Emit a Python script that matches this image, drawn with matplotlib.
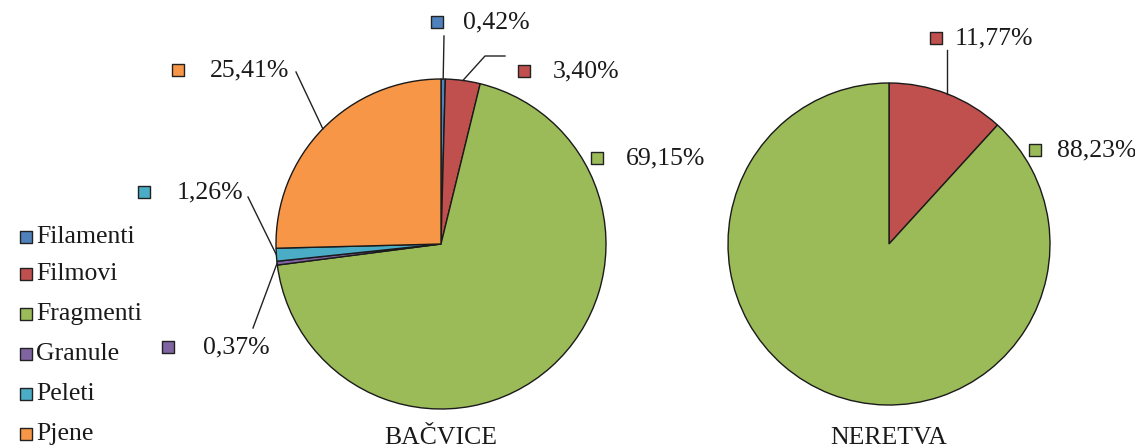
import numpy as np
import matplotlib
matplotlib.use('Agg')
import matplotlib.pyplot as plt

plt.rcParams['font.family'] = ['Liberation Serif', 'DejaVu Serif']

categories = ['Filamenti', 'Filmovi', 'Fragmenti', 'Granule', 'Peleti', 'Pjene']
colors = ['#4F81BD', '#C0504D', '#9BBB59', '#8064A2', '#4BACC6', '#F79646']
bacvice = [0.42, 3.40, 69.15, 0.37, 1.26, 25.41]
neretva = [0, 11.77, 88.23, 0, 0, 0]
titles = ['BAČVICE', 'NERETVA']

W, H = 1135, 448
fig = plt.figure(figsize=(W / 100, H / 100), dpi=100)
ax = fig.add_axes([0, 0, 1, 1])

def py(y):
    # pixel row -> data y
    return H - y

def fmt(v):
    return f'{v:.2f}%'.replace('.', ',')

def mid_point(vals, i, cx, cy, r):
    tot = sum(vals)
    start = sum(vals[:i])
    frac = (start + vals[i] / 2) / tot
    ang = np.deg2rad(90 - frac * 360)
    return cx + r * np.cos(ang), cy + r * np.sin(ang)

FS = 18.5
TXT = '#1a1a1a'

def label(x_sq, y, x_txt, text, color):
    ax.scatter([x_sq], [py(y)], s=75, marker='s', color=color,
               edgecolors='#222222', linewidths=1, zorder=5)
    ax.text(x_txt, py(y), text, fontsize=FS, color=TXT, va='center', ha='left')

# left pie
cxL, cyL, rL = 441, py(244), 165
ax.pie(bacvice, colors=colors, startangle=90, counterclock=False,
       center=(cxL, cyL), radius=rL,
       wedgeprops=dict(edgecolor='#1a1a1a', linewidth=1))

# right pie
nz = [(v, c) for v, c in zip(neretva, colors) if v > 0]
cxR, cyR, rR = 889, py(244), 161
ax.pie([v for v, c in nz], colors=[c for v, c in nz], startangle=90,
       counterclock=False, center=(cxR, cyR), radius=rR,
       wedgeprops=dict(edgecolor='#1a1a1a', linewidth=1))

# labels, left pie: (square x, y, text x, leader points)
lab_L = {
    0: (437, 22, 463, [(444, 36)]),
    1: (524, 71, 553, [(485, 56), (505, 56)]),
    2: (597, 158, 626, None),
    3: (168, 347, 203, [(253, 328)]),
    4: (144, 192, 177, [(248, 197)]),
    5: (178, 70, 210, [(296, 72)]),
}
for i, (xs, y, xt, pts) in lab_L.items():
    label(xs, y, xt, fmt(bacvice[i]), colors[i])
    if pts:
        x0, y0 = mid_point(bacvice, i, cxL, cyL, rL)
        xs_ = [x0] + [p[0] for p in pts]
        ys_ = [y0] + [py(p[1]) for p in pts]
        ax.plot(xs_, ys_, color='#222222', lw=1, zorder=4)

# labels, right pie
nvals = [v for v, c in nz]
label(936, 38, 955, fmt(neretva[1]), colors[1])
x0, y0 = mid_point(nvals, 0, cxR, cyR, rR)
ax.plot([x0, x0], [y0, py(50)], color='#222222', lw=1, zorder=4)
label(1035, 150, 1057, fmt(neretva[2]), colors[2])

# legend
leg_y = [237, 274, 314, 354, 394, 434]
for c, name, y in zip(colors, categories, leg_y):
    ax.scatter([26], [py(y)], s=75, marker='s', color=c,
               edgecolors='#222222', linewidths=1, zorder=5)
    ax.text(36, py(y), name, fontsize=FS, color=TXT, ha='left', va='center')

# titles
ax.text(cxL, py(438), titles[0], fontsize=FS, color=TXT, ha='center', va='center')
ax.text(cxR, py(438), titles[1], fontsize=FS, color=TXT, ha='center', va='center')

ax.set_xlim(0, W)
ax.set_ylim(0, H)
ax.set_aspect('auto')
ax.axis('off')

fig.savefig('out.png', dpi=100, facecolor='white')
